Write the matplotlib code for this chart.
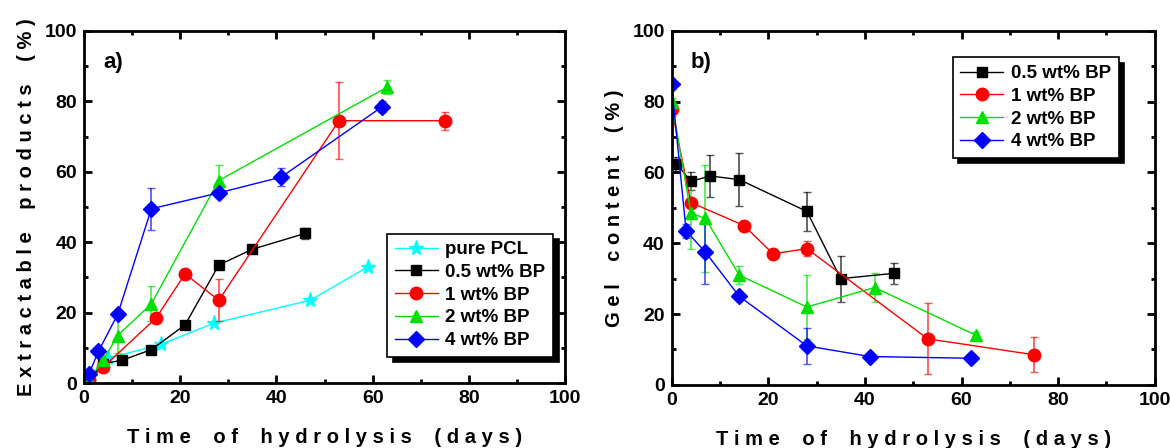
import matplotlib
matplotlib.use("Agg")
import matplotlib.pyplot as plt
from matplotlib.ticker import MultipleLocator

plt.rcParams['font.family'] = ['Liberation Sans', 'DejaVu Sans']
plt.rcParams['font.weight'] = 'bold'

# panel a) extractable products (%)
a_pcl_x = [1, 5, 16, 27, 47, 59]
a_pcl_y = [0.5, 7, 11, 17, 23.5, 33]
a_05_x = [1, 4, 8, 14, 21, 28, 35, 46]
a_05_y = [1, 5.5, 6.5, 9.5, 16.5, 33.5, 38, 42.5]
a_05_e = [0, 0, 0.5, 0.8, 1.0, 0.8, 0.5, 1.5]
a_1_x = [1, 4, 15, 21, 28, 53, 75]
a_1_y = [1, 4.5, 18.5, 31, 23.5, 74.5, 74.5]
a_1_e = [0, 0.5, 1.0, 0.5, 6, 11, 2.5]
a_2_x = [1, 4, 7, 14, 28, 63]
a_2_y = [1, 6.5, 13.5, 22.5, 57.5, 84]
a_2_e = [0, 0.5, 5, 5, 4.5, 2]
a_4_x = [1, 3, 7, 14, 28, 41, 62]
a_4_y = [2.5, 9, 19.5, 49.5, 54, 58.5, 78.5]
a_4_e = [0.5, 0.5, 0.5, 6, 1, 2.5, 1.5]

# panel b) gel content (%)
b_05_x = [1, 4, 8, 14, 28, 35, 46]
b_05_y = [62.5, 57.5, 59, 58, 49, 30, 31.5]
b_05_e = [2, 2.5, 6, 7.5, 5.5, 6.5, 3]
b_1_x = [0, 4, 15, 21, 28, 53, 75]
b_1_y = [78, 51.5, 45, 37, 38.5, 13, 8.5]
b_1_e = [2, 1, 1, 1, 2, 10, 5]
b_2_x = [0, 4, 7, 14, 28, 42, 63]
b_2_y = [80, 48.5, 47, 31, 22, 27.5, 14]
b_2_e = [1, 10, 15, 2.5, 9, 4, 1]
b_4_x = [0, 3, 7, 14, 28, 41, 62]
b_4_y = [85, 43.5, 37.5, 25, 11, 8, 7.5]
b_4_e = [0.5, 2, 9, 1, 5, 0.5, 0.5]

labels = ['0.5 wt% BP', '1 wt% BP', '2 wt% BP', '4 wt% BP']
colors = ['black', 'red', '#00e000', 'blue']
markers = ['s', 'o', '^', 'D']
msizes = [7.5, 9, 9, 8]


def spaced(s):
    return ' '.join(s).replace('   ', '    ')


def style_axes(ax, ylabel, tag):
    ax.set_xlim(0, 100)
    ax.set_ylim(0, 100)
    ax.xaxis.set_major_locator(MultipleLocator(20))
    ax.xaxis.set_minor_locator(MultipleLocator(10))
    ax.yaxis.set_major_locator(MultipleLocator(20))
    ax.yaxis.set_minor_locator(MultipleLocator(10))
    ax.tick_params(which='both', direction='in', top=True, right=True, width=2)
    ax.tick_params(which='major', length=6, labelsize=14, pad=5)
    ax.tick_params(which='minor', length=3)
    for sp in ax.spines.values():
        sp.set_linewidth(2)
    for t in ax.get_xticklabels() + ax.get_yticklabels():
        t.set_fontweight('bold')
    ax.set_xlabel(spaced('Time of hydrolysis (days)'), fontsize=14.5, fontweight='bold', labelpad=15)
    ax.set_ylabel(spaced(ylabel), fontsize=14.5, fontweight='bold', labelpad=6)
    ax.text(0.04, 0.91, tag, transform=ax.transAxes, fontsize=16, fontweight='bold', va='center')


def series(ax, x, y, e, c, m, ms, lab):
    return ax.errorbar(x, y, yerr=e, color=c, marker=m, markersize=ms, lw=1,
                       elinewidth=1.3, capsize=3, ecolor=(c, 0.65), label=lab)


fig = plt.figure(figsize=(11.7, 4.48), dpi=100)
ax1 = fig.add_axes([0.0718, 0.145, 0.4112, 0.786])
ax2 = fig.add_axes([0.574, 0.141, 0.413, 0.790])

h_pcl, = ax1.plot(a_pcl_x, a_pcl_y, color='cyan', marker='*', markersize=11, lw=1, label='pure PCL')
a_data = [(a_05_x, a_05_y, a_05_e), (a_1_x, a_1_y, a_1_e), (a_2_x, a_2_y, a_2_e), (a_4_x, a_4_y, a_4_e)]
h1 = [h_pcl]
for (x, y, e), c, m, ms, lab in zip(a_data, colors, markers, msizes, labels):
    h1.append(series(ax1, x, y, e, c, m, ms, lab)[0])

b_data = [(b_05_x, b_05_y, b_05_e), (b_1_x, b_1_y, b_1_e), (b_2_x, b_2_y, b_2_e), (b_4_x, b_4_y, b_4_e)]
h2 = []
for (x, y, e), c, m, ms, lab in zip(b_data, colors, markers, msizes, labels):
    h2.append(series(ax2, x, y, e, c, m, ms, lab)[0])

style_axes(ax1, 'Extractable products (%)', 'a)')
style_axes(ax2, 'Gel content (%)', 'b)')

leg_kw = dict(fontsize=13.5, fancybox=False, framealpha=1, edgecolor='black',
              shadow={'color': 'black', 'alpha': 1, 'ox': 4, 'oy': -4}, handlelength=2.3,
              borderpad=0.4, labelspacing=0.3, handletextpad=0.4, borderaxespad=0)
l1 = ax1.legend(h1, ['pure PCL'] + labels, loc='lower right', bbox_to_anchor=(0.975, 0.075), **leg_kw)
l2 = ax2.legend(h2, labels, loc='upper right', bbox_to_anchor=(0.925, 0.925), **leg_kw)
for leg in (l1, l2):
    leg.get_frame().set_linewidth(1.2)
    for t in leg.get_texts():
        t.set_fontweight('bold')

fig.savefig('out.png', dpi=100)
